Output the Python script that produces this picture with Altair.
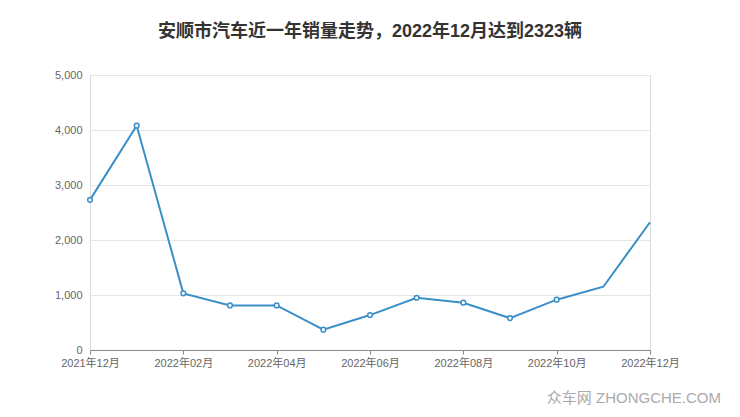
import altair as alt
import pandas as pd

months = ["2021年12月", "2022年01月", "2022年02月", "2022年03月", "2022年04月", "2022年05月",
          "2022年06月", "2022年07月", "2022年08月", "2022年09月", "2022年10月", "2022年11月", "2022年12月"]
sales = [2730, 4080, 1030, 810, 810, 370, 635, 950, 860, 580, 915, 1150, 2323]
show_point = [True, True, True, True, True, True, True, True, True, True, True, False, False]

df = pd.DataFrame({"idx": list(range(len(months))), "month": months, "sales": sales, "pt": show_point})

label_arr = "[" + ",".join("'%s'" % m for m in months) + "]"
color = "#3a8fc7"
font = "Liberation Sans, Noto Sans CJK SC"

x_enc = alt.X("idx:Q", scale=alt.Scale(domain=[0, 12], nice=False, zero=False),
              axis=alt.Axis(values=[0, 2, 4, 6, 8, 10, 12], labelExpr=label_arr + "[datum.value]",
                            title=None, grid=False, domainColor="#888", tickColor="#888",
                            tickSize=4, labelColor="#666", labelFontSize=11, labelFont=font,
                            labelPadding=3, labelFlush=False))
y_enc = alt.Y("sales:Q", scale=alt.Scale(domain=[0, 5000], nice=False),
              axis=alt.Axis(values=[0, 1000, 2000, 3000, 4000, 5000],
                            labelExpr="format(datum.value, ',d')", title=None,
                            domain=False, ticks=False, gridColor="#e6e6e6", labelColor="#666",
                            labelFontSize=11, labelFont=font, labelPadding=8))

line = alt.Chart(df).mark_line(color=color, strokeWidth=2).encode(x=x_enc, y=y_enc)
pts = alt.Chart(df).transform_filter("datum.pt").mark_point(
    shape="circle", filled=True, fill="white", stroke=color, strokeWidth=1.5, size=22, opacity=1
).encode(x=x_enc, y=y_enc)

wm = alt.Chart(pd.DataFrame({"t": ["众车网 ZHONGCHE.COM"]})).mark_text(
    align="right", baseline="middle", fontSize=15, color="#aaa", font=font
).encode(x=alt.value(631), y=alt.value(323), text="t:N")

chart = (line + pts + wm).properties(
    width=560, height=275,
    title=alt.TitleParams("安顺市汽车近一年销量走势，2022年12月达到2323辆", font=font, fontSize=18,
                          fontWeight="bold", color="#333", anchor="middle", offset=28),
    padding={"left": 82, "top": 67, "right": 82, "bottom": 59},
    autosize=alt.AutoSizeParams(type="none"),
).configure_view(strokeWidth=0).configure(background="white")

chart.save("out.html", embed_options={"renderer": "svg", "actions": False})
